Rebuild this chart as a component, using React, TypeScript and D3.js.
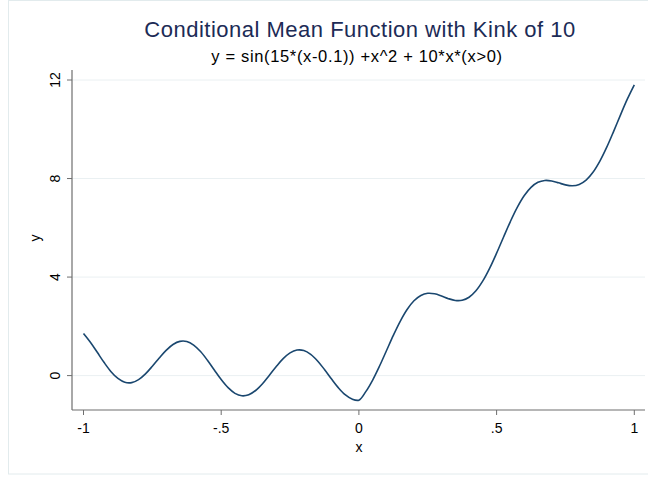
import React from "react";
import * as d3 from "d3";

const xValues = [
  -1, -0.975, -0.95, -0.925, -0.9, -0.875, -0.85, -0.825, -0.8, -0.775, -0.75, -0.725, -0.7, -0.675, -0.65,
  -0.625, -0.6, -0.575, -0.55, -0.525, -0.5, -0.475, -0.45, -0.425, -0.4, -0.375, -0.35, -0.325, -0.3, -0.275,
  -0.25, -0.225, -0.2, -0.175, -0.15, -0.125, -0.1, -0.075, -0.05, -0.025, 0, 0.025, 0.05, 0.075, 0.1, 0.125,
  0.15, 0.175, 0.2, 0.225, 0.25, 0.275, 0.3, 0.325, 0.35, 0.375, 0.4, 0.425, 0.45, 0.475, 0.5, 0.525, 0.55,
  0.575, 0.6, 0.625, 0.65, 0.675, 0.7, 0.725, 0.75, 0.775, 0.8, 0.825, 0.85, 0.875, 0.9, 0.925, 0.95, 0.975, 1,
];
const yValues = [
  1.712, 1.356, 0.945, 0.529, 0.16, -0.117, -0.271, -0.285, -0.164, 0.071, 0.38, 0.716, 1.027, 1.264, 1.39,
  1.384, 1.24, 0.975, 0.622, 0.226, -0.162, -0.491, -0.72, -0.819, -0.778, -0.605, -0.328, 0.014, 0.369, 0.687,
  0.922, 1.037, 1.018, 0.863, 0.594, 0.247, -0.131, -0.488, -0.776, -0.953, -0.997, -0.651, -0.179, 0.389, 1.01,
  1.632, 2.204, 2.683, 3.037, 3.255, 3.341, 3.32, 3.231, 3.124, 3.051, 3.059, 3.182, 3.444, 3.844, 4.364, 4.971,
  5.618, 6.253, 6.827, 7.298, 7.641, 7.846, 7.923, 7.902, 7.825, 7.743, 7.707, 7.76, 7.938, 8.255, 8.708, 9.273,
  9.916, 10.586, 11.231, 11.804,
];
const xTicks = [-1, -0.5, 0, 0.5, 1];
const xTickLabels = ["-1", "-.5", "0", ".5", "1"];
const yTicks = [0, 4, 8, 12];
const yTickLabels = ["0", "4", "8", "12"];
const titleText = "Conditional Mean Function with Kink of 10";
const subtitleText = "y = sin(15*(x-0.1)) +x^2 + 10*x*(x>0)";
const xTitle = "x";
const yTitle = "y";

export default function App() {
  const W = 648;
  const H = 477;
  const plotLeft = 72;
  const plotRight = 645;
  const plotTop = 70;
  const plotBottom = 410;

  const x = d3.scaleLinear().domain([-1, 1]).range([83.5, 634.3]);
  const y = d3.scaleLinear().domain([0, 12]).range([375.6, 80]);

  const pts: [number, number][] = xValues.map((v, i) => [v, yValues[i]]);
  const line = d3
    .line<[number, number]>()
    .x((d) => x(d[0]))
    .y((d) => y(d[1]))
    .curve(d3.curveCatmullRom.alpha(0.5));

  const font = "'Liberation Sans', Arial, Helvetica, sans-serif";
  const axisColor = "#6e6e6e";

  return (
    <svg
      width={W}
      height={H}
      style={{ position: "absolute", left: 0, top: 0, background: "#fff" }}
      fontFamily={font}
    >
      <rect x={8.5} y={0.5} width={W} height={473.5} fill="#fff" stroke="#e2ebed" strokeWidth={1} />
      {yTicks.map((t) => (
        <line key={"g" + t} x1={plotLeft} x2={plotRight} y1={y(t)} y2={y(t)} stroke="#eaf0f2" strokeWidth={1} />
      ))}
      <path d={line(pts) || ""} fill="none" stroke="#1a476f" strokeWidth={1.6} strokeLinejoin="round" />
      <line x1={plotLeft} x2={plotLeft} y1={plotTop} y2={plotBottom} stroke={axisColor} strokeWidth={1.2} />
      <line x1={plotLeft} x2={plotRight} y1={plotBottom} y2={plotBottom} stroke={axisColor} strokeWidth={1.2} />
      {yTicks.map((t, i) => (
        <g key={"y" + t}>
          <line x1={plotLeft - 5} x2={plotLeft} y1={y(t)} y2={y(t)} stroke={axisColor} strokeWidth={1} />
          <text
            x={60}
            y={y(t)}
            transform={`rotate(-90, 60, ${y(t)})`}
            textAnchor="middle"
            fontSize={14}
            fill="#000"
          >
            {yTickLabels[i]}
          </text>
        </g>
      ))}
      {xTicks.map((t, i) => (
        <g key={"x" + t}>
          <line x1={x(t)} x2={x(t)} y1={plotBottom} y2={plotBottom + 5} stroke={axisColor} strokeWidth={1} />
          <text x={x(t)} y={433} textAnchor="middle" fontSize={14} fill="#000">
            {xTickLabels[i]}
          </text>
        </g>
      ))}
      <text x={x(0)} y={452} textAnchor="middle" fontSize={14} fill="#000">
        {xTitle}
      </text>
      <text x={40} y={238} transform="rotate(-90, 40, 238)" textAnchor="middle" fontSize={14} fill="#000">
        {yTitle}
      </text>
      <text x={360} y={37.3} textAnchor="middle" fontSize={22} letterSpacing={0.5} fill="#1c2b56">
        {titleText}
      </text>
      <text x={357} y={61.5} textAnchor="middle" fontSize={16.5} letterSpacing={0.65} fill="#000">
        {subtitleText}
      </text>
    </svg>
  );
}
